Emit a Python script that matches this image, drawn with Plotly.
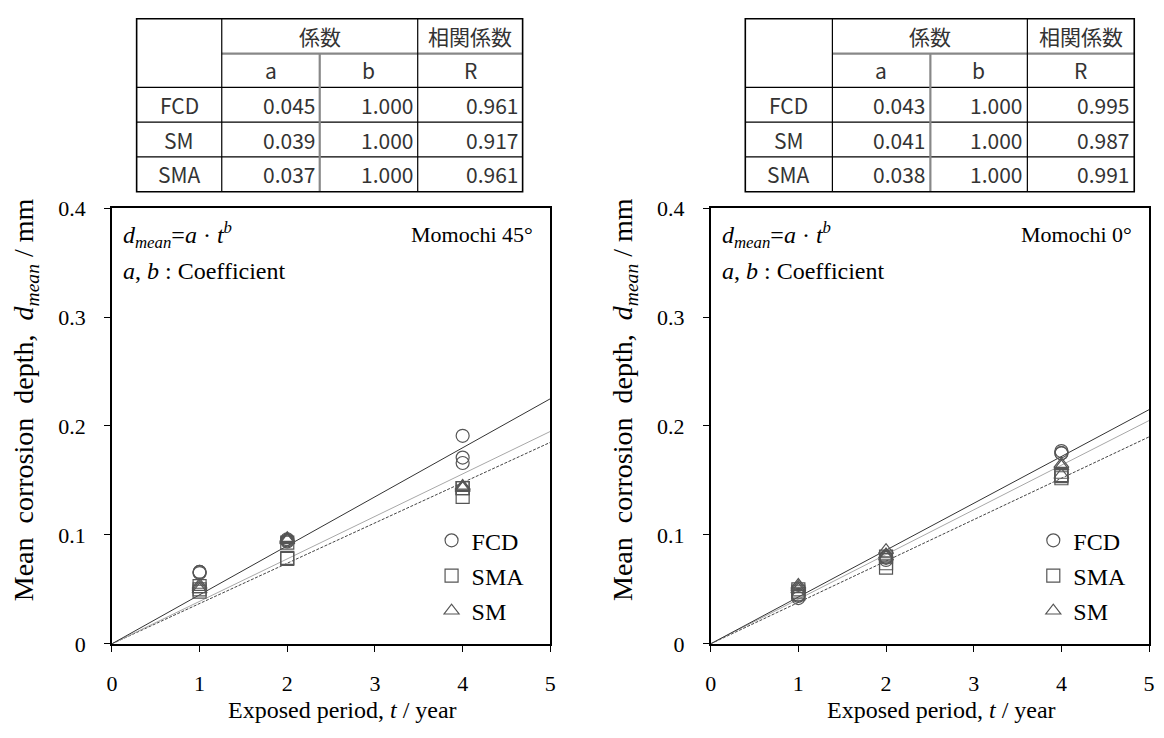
import numpy as np
import plotly.graph_objects as go

W, H = 1164, 738

# ---------------- data ----------------
series_names = ["FCD", "SMA", "SM"]
t_points = [1, 1, 1, 2, 2, 2, 4, 4, 4]

# Momochi 45°
left_fcd = [0.066, 0.066, 0.065, 0.094, 0.096, 0.095, 0.191, 0.171, 0.166]
left_sma = [0.048, 0.050, 0.053, 0.078, 0.079, 0.093, 0.143, 0.135, 0.143]
left_sm = [0.050, 0.052, 0.054, 0.096, 0.097, 0.095, 0.145, 0.143, 0.144]

# Momochi 0°
right_fcd = [0.042, 0.044, 0.045, 0.079, 0.077, 0.080, 0.177, 0.175, 0.175]
right_sma = [0.048, 0.050, 0.046, 0.070, 0.074, 0.080, 0.152, 0.154, 0.155]
right_sm = [0.054, 0.050, 0.052, 0.086, 0.082, 0.080, 0.163, 0.165, 0.155]

# fitted coefficients (table values)
table_rows = ["FCD", "SM", "SMA"]
left_a = ["0.045", "0.039", "0.037"]
left_b = ["1.000", "1.000", "1.000"]
left_R = ["0.961", "0.917", "0.961"]
right_a = ["0.043", "0.041", "0.038"]
right_b = ["1.000", "1.000", "1.000"]
right_R = ["0.995", "0.987", "0.991"]

x_ticks = [0, 1, 2, 3, 4, 5]
y_ticks = [0, 0.1, 0.2, 0.3, 0.4]
panel_titles = ["Momochi 45°", "Momochi 0°"]

# ---------------- helpers ----------------
def px(x):
    return x / W

def py(y):
    return 1 - y / H

serif = "Liberation Serif, Times New Roman, serif"
sans = "Noto Sans CJK JP, Noto Sans, sans-serif"

marker_sym = {"FCD": "circle-open", "SMA": "square-open", "SM": "triangle-up-open"}
line_sty = {
    "FCD": dict(color="#333333", width=1),
    "SM": dict(color="#a8a8a8", width=1),
    "SMA": dict(color="#444444", width=1, dash="3px,1.5px"),
}

fig = go.Figure()

panels = [
    dict(xa="x", ya="y", legend="legend",
         data={"FCD": left_fcd, "SMA": left_sma, "SM": left_sm},
         coef={r: (float(a), float(b)) for r, a, b in zip(table_rows, left_a, left_b)}),
    dict(xa="x2", ya="y2", legend="legend2",
         data={"FCD": right_fcd, "SMA": right_sma, "SM": right_sm},
         coef={r: (float(a), float(b)) for r, a, b in zip(table_rows, right_a, right_b)}),
]

tt = np.linspace(0, 5, 51)
for p in panels:
    for name in ["SMA", "SM", "FCD"]:
        a, b = p["coef"][name]
        fig.add_trace(go.Scatter(x=tt, y=a * tt ** b, mode="lines", line=line_sty[name],
                                 xaxis=p["xa"], yaxis=p["ya"], showlegend=False,
                                 hoverinfo="skip"))
    for name in series_names:
        fig.add_trace(go.Scatter(x=t_points, y=p["data"][name], mode="markers", name=name,
                                 marker=dict(symbol=marker_sym[name], size=13,
                                             color="#555555", line=dict(width=1.2, color="#555555")),
                                 xaxis=p["xa"], yaxis=p["ya"], legend=p["legend"],
                                 legendgroup=p["legend"] + name))

axis_common = dict(showline=True, linecolor="black", linewidth=1.5, mirror=True,
                   ticks="outside", ticklen=6, tickcolor="black", tickwidth=1,
                   showgrid=False, zeroline=False,
                   tickfont=dict(family=serif, size=22, color="black"))

PL = [(107, 550), (712, 1155)]   # plot left/right pixel edges
PT, PB = 203, 654                # plot top/bottom pixel edges

legend_common = dict(xanchor="left", yanchor="top", bgcolor="rgba(0,0,0,0)",
                     font=dict(family=serif, size=24, color="black"),
                     tracegroupgap=1, itemwidth=30, borderwidth=0)

fig.update_layout(
    width=W, height=H, margin=dict(l=0, r=0, t=0, b=0),
    paper_bgcolor="white", plot_bgcolor="white",
    xaxis=dict(domain=[px(PL[0][0]), px(PL[0][1])], range=[0, 5], tickvals=x_ticks,
               anchor="y", ticklabelstandoff=13, **axis_common),
    yaxis=dict(domain=[py(PB), py(PT)], range=[0, 0.4], tickvals=y_ticks,
               anchor="x", ticklabelstandoff=14, **axis_common),
    xaxis2=dict(domain=[px(PL[1][0]), px(PL[1][1])], range=[0, 5], tickvals=x_ticks,
                anchor="y2", ticklabelstandoff=13, **axis_common),
    yaxis2=dict(domain=[py(PB), py(PT)], range=[0, 0.4], tickvals=y_ticks,
                anchor="x2", ticklabelstandoff=14, **axis_common),
    legend=dict(x=px(430), y=py(524), **legend_common),
    legend2=dict(x=px(1038), y=py(524), **legend_common),
    showlegend=True,
)

annotations = []
shapes = []

for i, (xl, xr) in enumerate(PL):
    annotations.append(dict(x=px((xl + xr) / 2 + 12), y=py(722), xref="paper", yref="paper",
                            text="Exposed period, <i>t</i> / year", showarrow=False,
                            xanchor="center", yanchor="middle",
                            font=dict(family=serif, size=24, color="black")))
    annotations.append(dict(x=px(xl - 87), y=py(401), xref="paper", yref="paper",
                            text="Mean  corrosion  depth,  <i>d</i><sub><i>mean</i></sub> / mm",
                            textangle=-90, showarrow=False, xanchor="center", yanchor="middle",
                            font=dict(family=serif, size=28, color="black")))
    annotations.append(dict(x=px(xl + 9), y=py(231), xref="paper", yref="paper",
                            text="<i>d</i><sub><i>mean</i></sub>=<i>a</i> · <i>t</i><sup><i>b</i></sup>",
                            showarrow=False, xanchor="left", yanchor="middle",
                            font=dict(family=serif, size=24, color="black")))
    annotations.append(dict(x=px(xl + 9), y=py(268), xref="paper", yref="paper",
                            text="<i>a</i>, <i>b</i> : Coefficient",
                            showarrow=False, xanchor="left", yanchor="middle",
                            font=dict(family=serif, size=24, color="black")))
    annotations.append(dict(x=px(xr - 15), y=py(230), xref="paper", yref="paper",
                            text=panel_titles[i], showarrow=False, xanchor="right", yanchor="middle",
                            font=dict(family=serif, size=22, color="black")))


def draw_table(cols, rows, a_vals, b_vals, r_vals):
    c0, c1, c2, c3, c4 = cols
    r0, r1, r2, r3, r4, r5 = rows
    black = dict(color="black", width=1.2)
    gray = dict(color="#888888", width=2.2)

    def line(x0, y0, x1, y1, st):
        shapes.append(dict(type="line", xref="paper", yref="paper",
                           x0=px(x0), y0=py(y0), x1=px(x1), y1=py(y1), line=st))
    line(c1, r1, c4, r1, gray)
    for r in (r2, r3, r4):
        line(c0, r, c4, r, black)
    line(c2, r1, c2, r5, gray)
    line(c1, r0, c1, r5, black)
    line(c3, r0, c3, r5, black)
    shapes.append(dict(type="rect", xref="paper", yref="paper",
                       x0=px(c0), y0=py(r0), x1=px(c4), y1=py(r5),
                       line=dict(color="black", width=1.6)))

    def txt(x, y, s, anchor="center"):
        annotations.append(dict(x=px(x), y=py(y), xref="paper", yref="paper", text=s,
                                showarrow=False, xanchor=anchor, yanchor="middle",
                                font=dict(family=sans, size=21, color="#333333")))
    txt((c1 + c3) / 2, (r0 + r1) / 2, "係数")
    txt((c3 + c4) / 2, (r0 + r1) / 2, "相関係数")
    txt((c1 + c2) / 2, (r1 + r2) / 2, "a")
    txt((c2 + c3) / 2, (r1 + r2) / 2, "b")
    txt((c3 + c4) / 2, (r1 + r2) / 2, "R")
    body_rows = [(r2, r3), (r3, r4), (r4, r5)]
    for k, (ya, yb) in enumerate(body_rows):
        ym = (ya + yb) / 2
        txt((c0 + c1) / 2, ym, table_rows[k])
        txt(c2 - 3, ym, a_vals[k], "right")
        txt(c3 - 3, ym, b_vals[k], "right")
        txt(c4 - 3, ym, r_vals[k], "right")


row_edges = [7, 43, 78, 114, 150, 186]
draw_table([132, 218, 317, 416, 522], row_edges, left_a, left_b, left_R)
draw_table([747, 835, 934, 1032, 1140], row_edges, right_a, right_b, right_R)

fig.update_layout(annotations=annotations, shapes=shapes)

# the page's default 8px body margin would push the fixed-size figure out of the window
fig.write_html("out.html", config={"displayModeBar": False},
               post_script="document.body.style.margin='0';document.body.style.overflow='hidden';")
